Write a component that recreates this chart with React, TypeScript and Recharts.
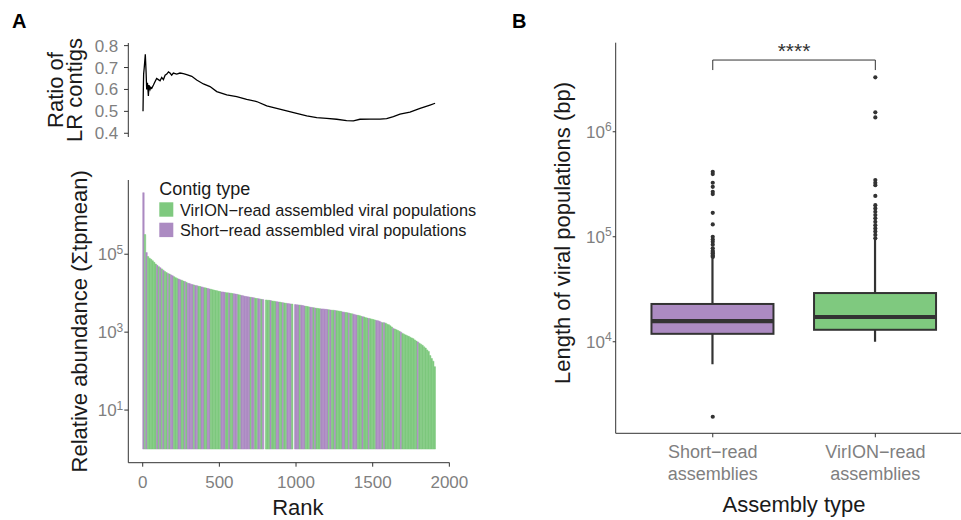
import {
  LineChart,
  Line,
  BarChart,
  Bar,
  Cell,
  ComposedChart,
  Scatter,
  XAxis,
  YAxis,
  ReferenceLine,
  Label,
} from "recharts";

// ---- Panel A (top): running ratio of long-read contigs by rank ----
const ratioRanks = [
  2, 4, 6, 10, 17, 22, 26, 31, 37, 41, 48, 53, 59, 70, 80, 91, 102, 113, 124,
  135, 146, 157, 168, 178, 189, 200, 222, 243, 265, 287, 320, 352, 396, 439,
  483, 548, 613, 678, 743, 809, 874, 939, 1004, 1070, 1135, 1200, 1265, 1330,
  1374, 1417, 1483, 1548, 1591, 1635, 1678, 1743, 1809, 1874, 1907,
];
const ratioValues = [
  0.5, 0.6, 0.67, 0.7, 0.76, 0.68, 0.6, 0.63, 0.57, 0.62, 0.6, 0.61, 0.605,
  0.62, 0.635, 0.65, 0.645, 0.64, 0.655, 0.645, 0.665, 0.67, 0.68, 0.675,
  0.665, 0.675, 0.67, 0.675, 0.672, 0.668, 0.66, 0.643, 0.625, 0.613, 0.59,
  0.575, 0.567, 0.555, 0.545, 0.525, 0.514, 0.502, 0.491, 0.479, 0.471, 0.468,
  0.464, 0.458, 0.457, 0.464, 0.465, 0.465, 0.467, 0.476, 0.487, 0.497, 0.514,
  0.529, 0.537,
];
const ratioTicks = [0.4, 0.5, 0.6, 0.7, 0.8];

// ---- Panel A (bottom): abundance per contig, one bar per 10 ranks ----
const rankStep = 10;
const abundance = [
  3.8e6, 3.2e5, 1.1e5, 8.7e4, 7.9e4, 7.4e4, 6.8e4, 6.2e4, 5.6e4, 5.2e4,
  4.8e4, 4.5e4, 4.2e4, 3.9e4, 3.6e4, 3.4e4, 3.2e4, 3.1e4, 2.95e4, 2.8e4,
  2.65e4, 2.5e4, 2.4e4, 2.3e4, 2.2e4, 2.15e4, 2.05e4, 2.0e4, 1.9e4, 1.8e4,
  1.78e4, 1.7e4, 1.66e4, 1.62e4, 1.58e4, 1.55e4, 1.51e4, 1.48e4, 1.45e4, 1.41e4,
  1.38e4, 1.35e4, 1.32e4, 1.29e4, 1.26e4, 1.23e4, 1.2e4, 1.17e4, 1.15e4, 1.12e4,
  1.1e4, 1.08e4, 1.07e4, 1.05e4, 1.03e4, 1.02e4, 1.01e4, 1.0e4, 9800, 9650,
  9500, 9350, 9150, 8950, 8750, 8550, 8350, 8200, 8100, 7950,
  7850, 7750, 7600, 7400, 7300, 7250, 7100, 6950, 6850, null,
  6700, 6600, 6550, 6450, 6300, 6250, 6150, 6050, 5950, 5900,
  5750, 5700, 5600, 5500, 5450, 5350, 5300, 5250, null, 5100,
  5050, 5000, 4950, 4900, 4800, 4700, 4600, 4550, 4450, 4350,
  4300, 4250, 4150, 4100, 4050, 4000, 3950, 3950, 3900, 3850,
  3800, 3750, 3700, 3650, 3650, 3600, 3550, 3500, 3450, 3400,
  3300, 3250, 3200, 3150, 3100, 3000, 2950, 2900, 2800, 2750,
  2700, 2650, 2550, 2500, 2450, 2350, 2300, 2250, 2200, 2150,
  2100, 2050, 2000, 1950, 1900, 1800, 1750, 1750, 1700, 1600,
  1550, 1450, 1350, 1250, 1200, 1150, 1100, 1050, 1000, 930,
  890, 850, 810, 780, 740, 710, 680, 630, 590, 560,
  520, 490, 460, 420, 390, 350, 320, 250, 210, 180, 130,
];
// V = VirION-read, S = short-read
const contigTypes = (
  "SVSVVVVVVS" + "VSVSVVSVSS" + "VVVSSVVSVS" + "SSSVSSVVSS" + "VVSSVVVVVV" +
  "VSSSVVSVVS" + "SSVVSSSSSS" + "VSSVVSSVSV" + "VVVSVVVSSV" + "VSVVSSSVSS" +
  "SSVSSSVVVS" + "SVSVVVSSSS" + "SVSVVSVVVV" + "SSVVSVVSSS" + "VVVSVVVSVV" +
  "VVSSSSVSVV" + "VVVSVVVVSV" + "VVVVVVVVVS" + "VVVVVVVVVVV"
).split("");
const rankTicks = [0, 500, 1000, 1500, 2000];
const abundanceTicks = [10, 1000, 100000];

// ---- Panel B: length of viral populations ----
const assemblyPositions = [1, 2];
const assemblyLabels = [
  ["Short−read", "assemblies"],
  ["VirION−read", "assemblies"],
];
const boxLow = [6100, 10000];
const boxQ1 = [11900, 13000];
const boxMedian = [15700, 17200];
const boxQ3 = [22900, 29100];
const boxHigh = [62000, 93000];
const outliersShort = [
  1930, 64000, 65400, 67000, 69500, 71500, 73600, 77600, 84000, 89500, 94000,
  100000, 131000, 169000, 255000, 268000, 299000, 327000, 395000, 416000,
];
const outliersVirion = [
  96600, 104000, 112000, 120000, 129000, 139000, 150000, 161000, 173000,
  186000, 200000, 245000, 310000, 327000, 347000, 1370000, 1530000, 3300000,
];
const lengthTicks = [10000, 100000, 1000000];
const bracketTop = 4.82e6;
const bracketFoot = 3.87e6;
const bracketLabel = "****";

const FONT = '"Liberation Sans", Arial, Helvetica, sans-serif';
const GREEN = "#7FC97F";
const PURPLE = "#AC8BC2";
const TICK_GREY = "#7F7F7F";
const AXIS = "#333333";
const TITLE = "#1A1A1A";

const ratioData = ratioRanks.map((rank, i) => ({ rank, ratio: ratioValues[i] }));
const barData = abundance.map((v, i) => ({
  rank: i * rankStep + rankStep / 2,
  span: v == null ? null : [1, v],
  fill: contigTypes[i] === "V" ? GREEN : PURPLE,
}));
const boxData = assemblyPositions.map((pos, i) => ({
  pos,
  whisker: [boxLow[i], boxHigh[i]],
  q1: boxQ1[i],
  median: boxMedian[i],
  q3: boxQ3[i],
  fill: i === 0 ? PURPLE : GREEN,
}));
const outlierData = [
  ...outliersShort.map((len) => ({ pos: 1, len })),
  ...outliersVirion.map((len) => ({ pos: 2, len })),
];

function PowerTick({ x, y, payload }: any) {
  const exp = Math.round(Math.log10(payload.value));
  return (
    <text x={x} y={y} dy="0.36em" textAnchor="end" fill={TICK_GREY} fontSize={17}>
      <tspan>10</tspan>
      <tspan dy="-0.55em" fontSize={12}>
        {exp}
      </tspan>
    </text>
  );
}

function AssemblyTick({ x, y, payload }: any) {
  const idx = assemblyPositions.indexOf(payload.value);
  const lines = assemblyLabels[idx] || [];
  return (
    <text x={x} y={y} textAnchor="middle" fill={TICK_GREY} fontSize={18}>
      <tspan x={x} dy={19}>
        {lines[0]}
      </tspan>
      <tspan x={x} dy={21.5}>
        {lines[1]}
      </tspan>
    </text>
  );
}

// rotated title, baselines given relative to the plot's left edge
function YTitle({ viewBox, lines, offsets, dy = 0 }: any) {
  const plotLeft = viewBox.x + viewBox.width;
  const cy = viewBox.y + viewBox.height / 2 + dy;
  return (
    <g>
      {lines.map((t: string, i: number) => {
        const bx = plotLeft + offsets[i];
        return (
          <text
            key={t}
            x={bx}
            y={cy}
            transform={`rotate(-90 ${bx} ${cy})`}
            textAnchor="middle"
            fill={TITLE}
            fontSize={22}
          >
            {t}
          </text>
        );
      })}
    </g>
  );
}

export default function App() {
  return (
    <div
      style={{
        position: "fixed",
        left: 0,
        top: 0,
        width: 961,
        height: 520,
        overflow: "hidden",
        background: "#fff",
        fontFamily: FONT,
      }}
    >
      {/* A: ratio line */}
      <div style={{ position: "absolute", left: 0, top: 0 }}>
        <LineChart
          width={470}
          height={150}
          data={ratioData}
          margin={{ top: 43, right: 20.5, bottom: 13, left: 68.3 }}
        >
          <XAxis hide type="number" dataKey="rank" domain={[-94, 2001]} allowDataOverflow />
          <YAxis
            type="number"
            width={60}
            domain={[0.383, 0.812]}
            ticks={ratioTicks}
            interval={0}
            allowDataOverflow
            tickFormatter={(v: number) => v.toFixed(1)}
            tick={{ fill: TICK_GREY, fontSize: 17 }}
            tickSize={4.3}
            tickMargin={5.7}
            tickLine={{ stroke: AXIS }}
            axisLine={{ stroke: AXIS }}
          >
            <Label
              content={(p: any) => (
                <YTitle viewBox={p.viewBox} lines={["Ratio of", "LR contigs"]} offsets={[-65.6, -46.6]} />
              )}
            />
          </YAxis>
          <Line
            type="linear"
            dataKey="ratio"
            stroke="#000"
            strokeWidth={1.3}
            dot={false}
            isAnimationActive={false}
          />
        </LineChart>
      </div>

      {/* A: abundance bars */}
      <div style={{ position: "absolute", left: 0, top: 160 }}>
        <BarChart
          width={470}
          height={360}
          data={barData}
          margin={{ top: 20, right: 20.5, bottom: 27.3, left: 68.3 }}
        >
          <XAxis
            type="number"
            dataKey="rank"
            domain={[-94, 2001]}
            ticks={rankTicks}
            interval={0}
            allowDataOverflow
            height={30}
            tick={{ fill: TICK_GREY, fontSize: 17 }}
            tickSize={4}
            tickMargin={9.5}
            tickLine={{ stroke: AXIS }}
            axisLine={{ stroke: AXIS }}
          >
            <Label
              content={(p: any) => (
                <text
                  x={p.viewBox.x + p.viewBox.width / 2 + 9}
                  y={p.viewBox.y + 52.3}
                  textAnchor="middle"
                  fill={TITLE}
                  fontSize={22}
                >
                  Rank
                </text>
              )}
            />
          </XAxis>
          <YAxis
            type="number"
            scale="log"
            width={60}
            domain={[0.446, 8.04e6]}
            ticks={abundanceTicks}
            interval={0}
            allowDataOverflow
            tick={<PowerTick />}
            tickSize={4}
            tickMargin={1}
            tickLine={{ stroke: AXIS }}
            axisLine={{ stroke: AXIS }}
          >
            <Label
              content={(p: any) => (
                <YTitle
                  viewBox={p.viewBox}
                  lines={["Relative abundance (Σtpmean)"]}
                  offsets={[-40.8]}
                />
              )}
            />
          </YAxis>
          <Bar dataKey="span" barSize={1.5} isAnimationActive={false}>
            {barData.map((r, i) => (
              <Cell key={i} fill={r.fill} stroke={r.fill} strokeWidth={0.5} />
            ))}
          </Bar>
        </BarChart>
      </div>

      {/* B: boxplot */}
      <div style={{ position: "absolute", left: 500, top: 0 }}>
        <ComposedChart
          width={461}
          height={520}
          data={boxData}
          margin={{ top: 42.7, right: 0, bottom: 26.7, left: 55.7 }}
        >
          <XAxis
            type="number"
            dataKey="pos"
            domain={[0.403, 2.527]}
            ticks={assemblyPositions}
            interval={0}
            allowDataOverflow
            height={60}
            tick={<AssemblyTick />}
            tickSize={4}
            tickMargin={2}
            tickLine={{ stroke: AXIS }}
            axisLine={{ stroke: AXIS }}
          >
            <Label
              content={(p: any) => (
                <text
                  x={p.viewBox.x + ((1.5 - 0.403) / (2.527 - 0.403)) * p.viewBox.width}
                  y={p.viewBox.y + 78.7}
                  textAnchor="middle"
                  fill={TITLE}
                  fontSize={22}
                >
                  Assembly type
                </text>
              )}
            />
          </XAxis>
          <YAxis
            type="number"
            scale="log"
            width={60}
            domain={[1343, 7.05e6]}
            ticks={lengthTicks}
            interval={0}
            allowDataOverflow
            tick={<PowerTick />}
            tickSize={3}
            tickMargin={1}
            tickLine={{ stroke: AXIS }}
            axisLine={{ stroke: AXIS }}
          >
            <Label
              content={(p: any) => (
                <YTitle
                  viewBox={p.viewBox}
                  lines={["Length of viral populations (bp)"]}
                  offsets={[-45.7]}
                  dy={-5}
                />
              )}
            />
          </YAxis>
          <Bar
            dataKey="whisker"
            barSize={122}
            isAnimationActive={false}
            shape={(props: any) => {
              const { x, y, width, height, payload } = props;
              const lo = Math.log10(payload.whisker[0]);
              const hi = Math.log10(payload.whisker[1]);
              const toY = (v: number) => y + (height * (hi - Math.log10(v))) / (hi - lo);
              const cx = x + width / 2;
              const yq1 = toY(payload.q1);
              const yq3 = toY(payload.q3);
              const ymed = toY(payload.median);
              return (
                <g>
                  <line x1={cx} x2={cx} y1={y} y2={yq3} stroke={AXIS} strokeWidth={2.2} />
                  <line x1={cx} x2={cx} y1={yq1} y2={y + height} stroke={AXIS} strokeWidth={2.2} />
                  <rect
                    x={x}
                    y={yq3}
                    width={width}
                    height={yq1 - yq3}
                    fill={payload.fill}
                    stroke={AXIS}
                    strokeWidth={2}
                  />
                  <line x1={x} x2={x + width} y1={ymed} y2={ymed} stroke={AXIS} strokeWidth={4.2} />
                </g>
              );
            }}
          />
          <Scatter
            data={outlierData}
            dataKey="len"
            isAnimationActive={false}
            shape={(p: any) => <circle cx={p.cx} cy={p.cy} r={2.1} fill={AXIS} />}
          />
          <ReferenceLine
            segment={[
              { x: 1, y: bracketTop },
              { x: 2, y: bracketTop },
            ]}
            stroke={AXIS}
            strokeWidth={1}
            label={{ value: bracketLabel, position: "top", offset: 2, fill: AXIS, fontSize: 21 }}
          />
          <ReferenceLine
            segment={[
              { x: 1, y: bracketTop },
              { x: 1, y: bracketFoot },
            ]}
            stroke={AXIS}
            strokeWidth={1}
          />
          <ReferenceLine
            segment={[
              { x: 2, y: bracketTop },
              { x: 2, y: bracketFoot },
            ]}
            stroke={AXIS}
            strokeWidth={1}
          />
        </ComposedChart>
      </div>

      {/* panel letters and legend */}
      <svg
        width={961}
        height={520}
        style={{ position: "absolute", left: 0, top: 0, pointerEvents: "none" }}
      >
        <text x={12} y={28} fontSize={20} fontWeight="bold" fill="#000">
          A
        </text>
        <text x={512} y={28} fontSize={20} fontWeight="bold" fill="#000">
          B
        </text>
        <text x={159.3} y={195} fontSize={18} fill={TITLE}>
          Contig type
        </text>
        <rect x={159.3} y={202.3} width={14} height={14.4} fill={GREEN} />
        <rect x={159.3} y={222.7} width={14} height={14.4} fill={PURPLE} />
        <text x={180} y={215.5} fontSize={16.3} fill={TITLE}>
          VirION−read assembled viral populations
        </text>
        <text x={180} y={235.7} fontSize={16.3} fill={TITLE}>
          Short−read assembled viral populations
        </text>
      </svg>
    </div>
  );
}
